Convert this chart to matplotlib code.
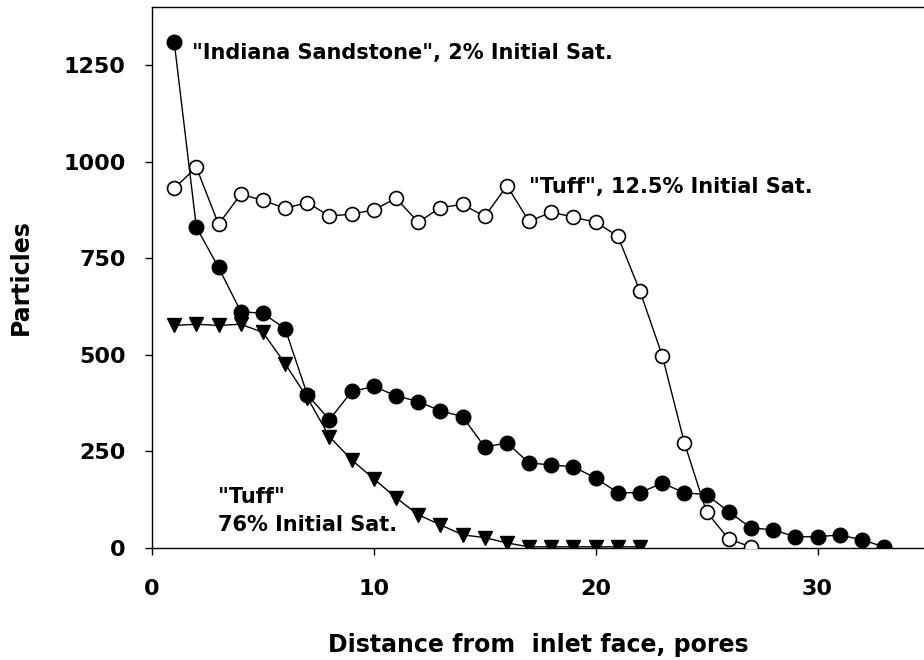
import matplotlib
matplotlib.use('Agg')
import matplotlib.pyplot as plt

# Particle counts vs. distance from the inlet face
dist_sandstone = list(range(1, 34))
sandstone_2pct = [1310, 830, 726, 612, 607, 568, 397, 332, 405, 418, 394, 379, 355, 340,
                  261, 272, 220, 215, 210, 181, 143, 143, 168, 143, 138, 94, 52, 47,
                  29, 29, 34, 21, 3]

dist_tuff_125 = list(range(1, 28))
tuff_125pct = [931, 985, 838, 915, 900, 879, 894, 859, 864, 875, 905, 843, 881, 889,
               858, 937, 845, 869, 856, 843, 807, 664, 498, 272, 93, 23, 3]

dist_tuff_76 = list(range(1, 23))
tuff_76pct = [576, 579, 576, 579, 558, 477, 389, 288, 228, 179, 130, 86, 60, 34,
              27, 13, 3, 3, 3, 3, 3, 3]

x_ticks = [0, 10, 20, 30]
y_ticks = [0, 250, 500, 750, 1000, 1250]

plt.rcParams['font.family'] = ['DejaVu Sans']

fig = plt.figure(figsize=(9.24, 6.6), dpi=100)
ax = fig.add_axes([152 / 924, 112 / 660, 1 - 152 / 924, 541 / 660])

ax.plot(dist_tuff_125, tuff_125pct, color='black', lw=1, marker='o', ms=10,
        mfc='white', mec='black', mew=1.2, zorder=3)
ax.plot(dist_tuff_76, tuff_76pct, color='black', lw=1, marker='v', ms=10,
        mfc='black', mec='black', zorder=4)
ax.plot(dist_sandstone, sandstone_2pct, color='black', lw=1, marker='o', ms=10.5,
        mfc='black', mec='black', zorder=5)

ax.set_xlim(0, 34.8)
ax.set_ylim(0, 1400)
ax.set_xticks(x_ticks)
ax.set_yticks(y_ticks)
ax.tick_params(direction='out', length=5, width=1, labelsize=16)
ax.tick_params(axis='y', pad=14)
ax.tick_params(axis='x', pad=17)
for lab in ax.get_xticklabels() + ax.get_yticklabels():
    lab.set_fontweight('bold')
ax.spines['right'].set_visible(False)
for s in ['left', 'top', 'bottom']:
    ax.spines[s].set_linewidth(1)

ax.set_ylabel('Particles', fontsize=17, fontweight='bold', labelpad=22)
ax.set_xlabel('Distance from  inlet face, pores', fontsize=17, fontweight='bold',
              labelpad=25)

# Series annotations
ax.text(1.8, 1280, '"Indiana Sandstone", 2% Initial Sat.', fontsize=15,
        fontweight='bold', va='center', ha='left')
ax.text(17.0, 935, '"Tuff", 12.5% Initial Sat.', fontsize=15,
        fontweight='bold', va='center', ha='left')
ax.text(2.97, 96, '"Tuff"\n76% Initial Sat.', fontsize=15, fontweight='bold',
        va='center', ha='left', linespacing=1.5)

fig.savefig('out.png', dpi=100)
